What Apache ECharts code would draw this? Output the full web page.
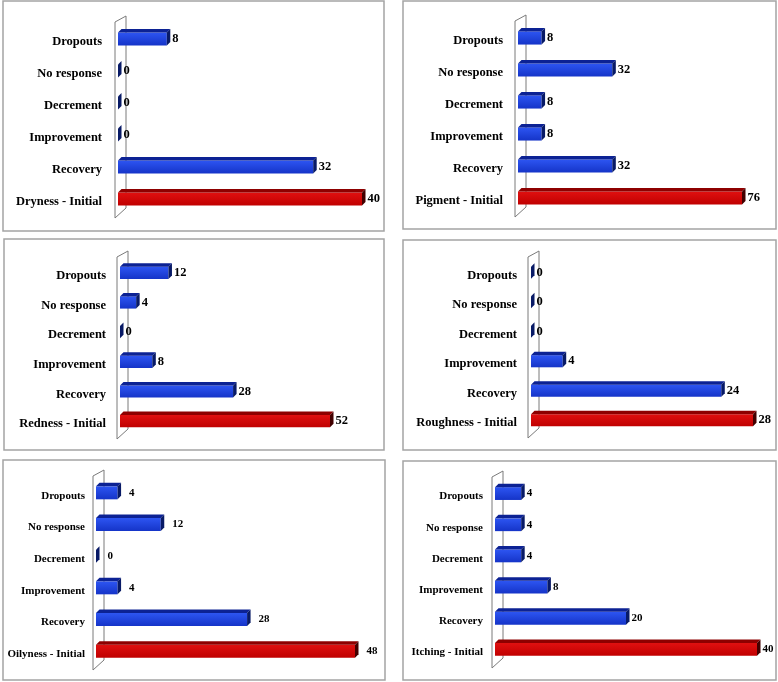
<!DOCTYPE html>
<html><head><meta charset="utf-8">
<script src="https://cdn.jsdelivr.net/npm/echarts@6/dist/echarts.min.js"></script>
<style>html,body{margin:0;padding:0;background:#fff}#c{width:778px;height:682px}</style>
</head><body><div id="c"></div>
<script>
// Category order (bottom -> top): Initial, Recovery, Improvement, Decrement, No response, Dropouts
const responseCategories = ['Recovery', 'Improvement', 'Decrement', 'No response', 'Dropouts'];
const initialLabels = ['Dryness - Initial', 'Pigment - Initial', 'Redness - Initial', 'Roughness - Initial', 'Oilyness - Initial', 'Itching - Initial'];
const drynessValues   = [40, 32, 0, 0, 0, 8];
const pigmentValues   = [76, 32, 8, 8, 32, 8];
const rednessValues   = [52, 28, 8, 0, 4, 12];
const roughnessValues = [28, 24, 4, 0, 0, 0];
const oilynessValues  = [48, 28, 4, 0, 12, 4];
const itchingValues   = [40, 20, 8, 4, 4, 4];
const panelValues = [drynessValues, pigmentValues, rednessValues, roughnessValues, oilynessValues, itchingValues];

// layout (positions/styles only)
const panels = [
  {frame:[3,1,381,230],   left:118, width:244, top:26,  height:192, font:12.5, vfont:12.5, margin:16, gap:2},
  {frame:[403,1,373,228], left:518, width:224, top:25,  height:192, font:12.5, vfont:12.5, margin:15, gap:2},
  {frame:[4,239,380,211], left:120, width:210, top:261, height:178, font:12.5, vfont:12.5, margin:14, gap:2},
  {frame:[403,240,373,210], left:531, width:222, top:261, height:177, font:12.5, vfont:12.5, margin:14, gap:2},
  {frame:[3,460,382,220], left:96,  width:259, top:480, height:190, font:11, vfont:11, margin:11, gap:8},
  {frame:[403,461,373,219], left:495, width:262, top:481, height:187, font:11, vfont:11, margin:12, gap:2}
];

const FONT = '"Liberation Serif", "Times New Roman", serif';

function makeBarRender(gap, fs) {
  return function (params, api) {
    const v = api.value(0), idx = api.value(1);
    const p0 = api.coord([0, idx]);
    const p1 = api.coord([v, idx]);
    const band = api.size([0, 1])[1];
    const h = band * 0.41, d = 3.5;
    const cy = p0[1] - 3;
    const yT = cy - h / 2, yB = cy + h / 2;
    const x0 = p0[0], x1 = p1[0];
    const red = idx === 0;
    const frontFill = red
      ? new echarts.graphic.LinearGradient(0, 0, 0, 1, [{offset:0, color:'#e01010'}, {offset:1, color:'#c00000'}])
      : new echarts.graphic.LinearGradient(0, 0, 0, 1, [{offset:0, color:'#2d55f2'}, {offset:1, color:'#1534c8'}]);
    const topFill = red ? '#8e0000' : '#0c2294';
    const rightFill = red ? '#420000' : '#081a66';
    const children = [];
    if (x1 - x0 > 0.5) {
      children.push({type:'rect', shape:{x:x0, y:yT, width:x1 - x0, height:h}, style:{fill:frontFill}});
      children.push({type:'polygon', shape:{points:[[x0, yT], [x0 + d, yT - d], [x1 + d, yT - d], [x1, yT]]}, style:{fill:topFill}});
    }
    children.push({type:'polygon', shape:{points:[[x1, yT], [x1 + d, yT - d], [x1 + d, yB - d], [x1, yB]]}, style:{fill:rightFill}});
    children.push({type:'text', style:{text:String(v), x:x1 + d + gap, y:cy, verticalAlign:'middle', align:'left',
      font:'bold ' + fs + 'px ' + FONT, fill:'#000'}});
    return {type:'group', children};
  };
}

function wallRender(params, api) {
  const cs = params.coordSys;
  const x = cs.x, t = cs.y, b = cs.y + cs.height;
  return {type:'polygon', shape:{points:[[x - 3, t - 4], [x + 8, t - 10], [x + 8, b - 10], [x - 3, b]]},
    style:{fill:'#fff', stroke:'#7a7a7a', lineWidth:1}};
}

const grid = [], xAxis = [], yAxis = [], series = [], graphic = [];
panels.forEach((p, i) => {
  const vals = panelValues[i];
  grid.push({left:p.left, top:p.top, width:p.width, height:p.height});
  xAxis.push({type:'value', gridIndex:i, min:0, max:Math.max(...vals), show:false});
  yAxis.push({type:'category', gridIndex:i, data:[initialLabels[i], ...responseCategories],
    axisLine:{show:false}, axisTick:{show:false}, splitLine:{show:false},
    axisLabel:{fontFamily:FONT, fontWeight:'bold', fontSize:p.font, color:'#000', margin:p.margin}});
  series.push({type:'custom', xAxisIndex:i, yAxisIndex:i, data:[[0, 0]], renderItem:wallRender, silent:true, z:1, clip:false});
  series.push({type:'custom', xAxisIndex:i, yAxisIndex:i, clip:false, z:2,
    data: vals.map((v, k) => [v, k]), encode:{x:0, y:1}, renderItem:makeBarRender(p.gap, p.vfont)});
  graphic.push({type:'rect', z:0, silent:true, shape:{x:p.frame[0], y:p.frame[1], width:p.frame[2], height:p.frame[3]},
    style:{fill:'none', stroke:'#a4a4a4', lineWidth:1.5}});
});

const chart = echarts.init(document.getElementById('c'), null, {renderer:'canvas'});
chart.setOption({backgroundColor:'#fff', animation:false, grid, xAxis, yAxis, series, graphic});
</script>
</body></html>
